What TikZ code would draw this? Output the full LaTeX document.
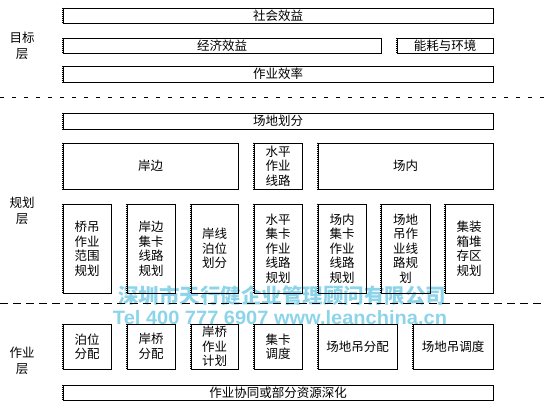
\documentclass[tikz,border=0pt]{standalone}
\usepackage{fontspec}
\newfontfamily\cjk{Noto Sans CJK SC}
\setsansfont{Liberation Sans}
\definecolor{wmcol}{RGB}{140,212,234}
\begin{document}
\begin{tikzpicture}[x=1pt,y=-1pt,
  box/.style={draw=black,line width=0.7pt,inner sep=0pt,align=center,
    font=\cjk\fontsize{12.5}{14.5}\selectfont,
    append after command={(\tikzlastnode.north west) edge[draw=white,line width=1pt] (\tikzlastnode.south west)
      (\tikzlastnode.north west) edge[draw=black,line width=0.7pt,dash pattern=on 1pt off 1pt] (\tikzlastnode.south west)}},
  lbl/.style={align=center,inner sep=0pt,font=\cjk\fontsize{12.5}{16}\selectfont},
  sepdot/.style={line width=0.8pt,dash pattern=on 3.5pt off 8.5pt},
  sepdash/.style={line width=0.8pt,dash pattern=on 8pt off 5pt},
  wm/.style={text=wmcol,inner sep=0pt}]
\useasboundingbox (0,0) rectangle (545,401);
\newcommand{\bx}[6]{\node[box,minimum width={(#4-#2)*1pt},minimum height={(#5-#3)*1pt}] (#1) at ({(#2+#4)/2},{(#3+#5)/2}) {#6};}
% watermark (behind)
\node[wm,font=\cjk\bfseries] (wm1) at (282,296) {\resizebox{328pt}{!}{深圳市天行健企业管理顾问有限公司}};
\node[wm,font=\sffamily\bfseries] (wm2) at (280,318) {\resizebox{334pt}{14pt}{Tel 400 777 6907 www.leanchina.cn}};
% target layer
\bx{shehui}{63}{8}{493}{23}{社会效益}
\bx{jingji}{63}{38}{381}{53}{经济效益}
\bx{nenghao}{397}{38}{493}{53}{能耗与环境}
\bx{xiaolv}{63}{66}{493}{82}{作业效率}
\node[lbl] (mubiao) at (22,46) {目标\\层};
\coordinate (s1l) at (0,97);
\coordinate (s1r) at (545,97);
\draw[sepdot] (s1l) -- (s1r);
% planning layer
\bx{huafen}{63}{113}{493}{129}{场地划分}
\bx{anbian}{63}{143}{238}{189}{岸边}
\bx{shuiping}{254}{143}{302}{189}{水平\\作业\\线路}
\bx{changnei}{318}{143}{493}{189}{场内}
\bx{p1}{63}{204}{111}{293}{桥吊\\作业\\范围\\规划}
\bx{p2}{127}{204}{175}{293}{岸边\\集卡\\线路\\规划}
\bx{p3}{191}{204}{238}{293}{岸线\\泊位\\划分}
\bx{p4}{254}{204}{302}{293}{水平\\集卡\\作业\\线路\\规划}
\bx{p5}{318}{204}{366}{293}{场内\\集卡\\作业\\线路\\规划}
\bx{p6}{381}{204}{430}{293}{场地\\吊作\\业线\\路规\\划}
\bx{p7}{445}{204}{493}{293}{集装\\箱堆\\存区\\规划}
\node[lbl] (guihua) at (22,211) {规划\\层};
\coordinate (s2l) at (0,303);
\coordinate (s2r) at (545,303);
\draw[sepdash] (s2l) -- (s2r);
% operation layer
\bx{o1}{63}{324}{111}{369}{泊位\\分配}
\bx{o2}{127}{324}{175}{369}{岸桥\\分配}
\bx{o3}{191}{324}{238}{369}{岸桥\\作业\\计划}
\bx{o4}{254}{324}{302}{369}{集卡\\调度}
\bx{o5}{318}{324}{397}{369}{场地吊分配}
\bx{o6}{413}{324}{493}{369}{场地吊调度}
\bx{xietong}{63}{385}{493}{400}{作业协同或部分资源深化}
\node[lbl] (zuoye) at (22,361) {作业\\层};
\end{tikzpicture}
\end{document}
